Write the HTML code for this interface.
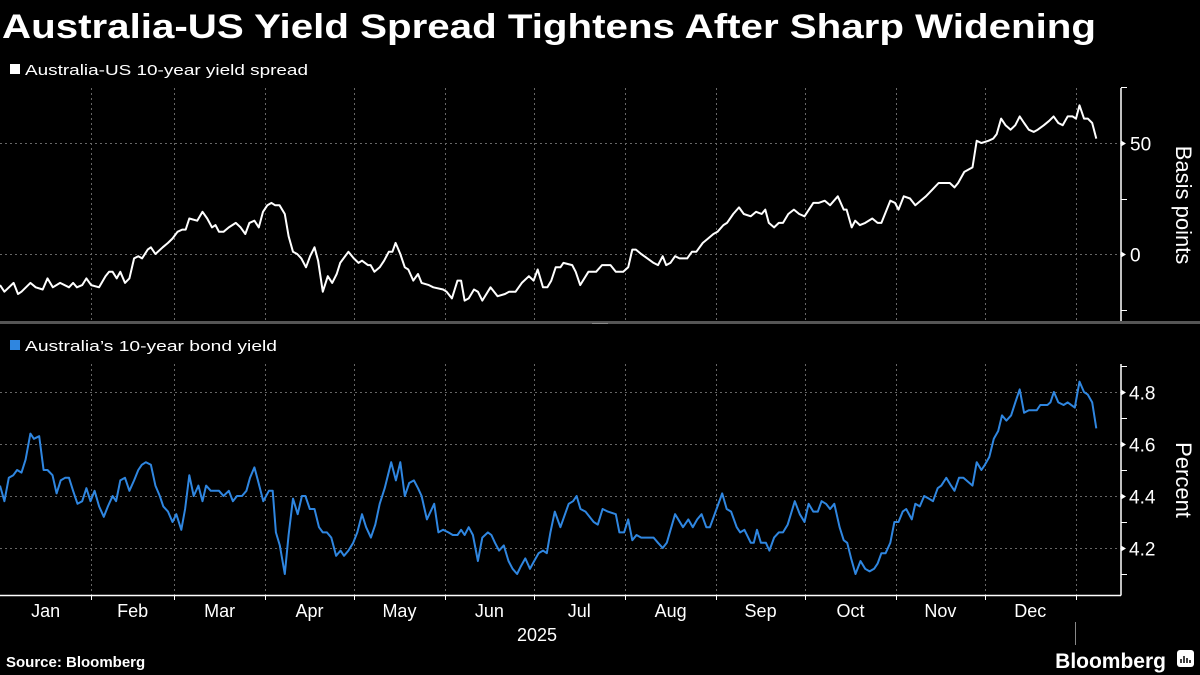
<!DOCTYPE html>
<html><head><meta charset="utf-8"><style>
html,body{margin:0;padding:0;background:#000;}
svg{display:block;font-family:"Liberation Sans",sans-serif;}
</style></head><body>
<svg id="chart" width="1200" height="675" viewBox="0 0 1200 675">
<rect width="1200" height="675" fill="#000"/>
<text x="2" y="38" fill="#fff" font-size="34" font-weight="bold" textLength="1094" lengthAdjust="spacingAndGlyphs">Australia-US Yield Spread Tightens After Sharp Widening</text>
<rect x="10" y="64" width="10" height="10" fill="#fff"/>
<text x="25" y="75" fill="#fff" font-size="15" textLength="283" lengthAdjust="spacingAndGlyphs">Australia-US 10-year yield spread</text>
<rect x="10" y="340" width="10" height="10" fill="#2f86e0"/>
<text x="25" y="351" fill="#fff" font-size="15" textLength="252" lengthAdjust="spacingAndGlyphs">Australia’s 10-year bond yield</text>
<rect x="0" y="321" width="1200" height="3" fill="#555"/>
<rect x="592" y="323" width="16" height="1" fill="#888"/>
<g id="grid"></g>
<g id="axes"></g>
<g id="series"></g>
<text transform="translate(1176,205) rotate(90)" fill="#fff" font-size="22" text-anchor="middle">Basis points</text>
<text transform="translate(1176,480) rotate(90)" fill="#fff" font-size="22" text-anchor="middle">Percent</text>
<text x="537" y="641" fill="#fff" font-size="18" text-anchor="middle">2025</text>
<line x1="1075.5" y1="622" x2="1075.5" y2="645" stroke="#888" stroke-width="1"/>
<text x="6" y="667" fill="#fff" font-size="15" font-weight="bold">Source: Bloomberg</text>
<text x="1166" y="668" fill="#fff" font-size="21" font-weight="bold" text-anchor="end">Bloomberg</text>
<rect x="1177" y="650" width="17" height="17" rx="3" fill="#fff"/>
<path d="M1181 663v-4M1184 663v-7M1187 663v-5M1190 663v-3" stroke="#000" stroke-width="1.5"/>
</svg>
<script>
const months = ["Jan","Feb","Mar","Apr","May","Jun","Jul","Aug","Sep","Oct","Nov","Dec"];
const monthStartDays = [0,31,59,90,120,151,181,212,243,273,304,334,365];
const spreadTicks = [0,50];
const spreadMinorTicks = [-25,25,75];
const yieldTicks = [4.2,4.4,4.6,4.8];
const yieldMinorTicks = [4.1,4.3,4.5,4.7,4.9];
const spreadDays = [0,1.5,4.6,6.1,7.3,10.3,12.1,14.5,16.1,17.9,20.4,23.4,24.8,26.1,27.9,29.3,30.9,33.6,35.8,37,38.2,39.6,40.8,42.4,43.9,45.5,46.9,48.2,50.1,51.2,52.7,55.2,57,58.5,60.2,61.8,63,64.2,66.9,68.7,70.3,71.9,73.1,74.3,75.8,77.6,80,81.6,83.2,84.6,86.3,87.8,89.2,90.7,92.1,93.3,94.8,96.6,97.9,99.4,100.8,102.2,103.8,105.2,106.7,107.9,109.5,111.2,112.7,114.2,115.4,118.2,120,121.6,122.8,124.8,125.7,127,128.8,130.3,131.9,133.1,134.2,135.8,137.3,138.5,140.2,141.8,143,145.5,147,150.3,151.5,153.3,155.2,156.4,157.6,159,160.8,162.1,163.6,166.4,168.8,171.3,172.7,174.9,177,179.4,181,182.4,184.2,185.7,187,188.5,190.1,
191.1,194.1,195.3,196.8,199.6,202.2,204.2,205.4,207.1,208.9,211.4,213.1,214.5,215.7,217.5,219.6,221.7,223.2,224.8,226,227.4,229,230.5,233.1,234.7,236.2,238.4,240.2,242,243.4,245.4,246.6,248.7,250.7,252.3,254.7,256.5,258.4,259.6,260.8,262.6,264.2,265.6,267.4,269.3,271.1,272.9,275.9,277.7,279.8,281.6,284.2,286.2,287.2,288.9,290.1,291.7,293.5,295.9,297.7,299,302,303.6,304.8,306.6,308.7,310.5,312.3,314.1,316.3,318.4,320.8,322.2,323.8,325,327.1,329.9,331.3,332.9,335.3,336.9,338.1,339.6,341.1,342.8,344.4,345.9,347.4,349,350.7,352,354.1,355.9,357.4,359,360.5,362.2,363.8,365,366.2,367.7,369,370.5,371.9];
const spreadValues = [-14,-17,-13,-18,-17,-13,-15,-16,-11,-15,-13,-15,-13,-15,-14,-11,-14,-15,-10,-8,-8,-11,-8,-13,-11,-2,-1,-2,2,3,0,3,5,7,10,11,11,16,15,19,16,12,13,10,10,12,14,12,9,14,15,12,19,22,23,22,22,18,8,1,0,-2,-6,-1,3,-3,-17,-10,-13,-9,-4,1,-2,-4,-3,-5,-5,-8,-6,-3,1,1,5,0,-6,-7,-12,-9,-13,-14,-15,-16,-17,-20,-12,-12,-21,-20,-16,-17,-21,-15,-19,-18,-17,-17,-13,-10,-12,-7,-15,-15,-12,-6,-6,
-4,-5,-8,-14,-8,-8,-5,-5,-5,-8,-8,-6,2,2,0,-2,-4,-5,-1,-5,-4,-1,-2,-2,1,1,5,7,9,10,13,14,18,21,18,17,19,18,20,14,12,14,14,18,20,18,17,23,23,24,22,26,20,20,12,15,13,14,16,14,14,24,23,20,26,25,22,24,26,29,32,32,32,30,32,37,39,51,50,51,52,54,61,58,56,58,62,59,56,55,56,58,60,62,59,58,62,62,61,67,61,61,59,52];
const yieldDays = [0,1.5,3,4.5,5.8,7.3,8.7,10.3,11.5,13.3,14.8,16.1,17.8,19.2,20.6,22.1,23.4,24.8,26.3,27.9,29.3,30.7,32.1,33.6,35.2,36.6,38.2,39.4,40.8,42.4,43.9,45.5,46.9,48.1,49.5,51.2,52.7,54.2,55.4,57,58.5,59.8,61.5,62.8,64.2,65.7,67.3,68.7,69.9,71.5,72.7,74.3,75.8,77.6,79,80.4,82.1,83.6,84.8,86.3,87.5,89.3,91.2,92.5,93.6,94.9,96.6,97.9,99.4,101,102.4,103.6,105.1,106.7,108.2,109.5,110.9,112.4,114,115.5,116.7,118.2,119.8,121.2,122.8,124.2,125.8,127.3,128.8,130.5,132.7,134.3,135.8,137.3,138.8,140.4,141.8,143,144.8,147.3,148.7,150.3,152.1,153.6,155.2,156.4,157.6,159,160.4,162.1,163.6,165.5,166.7,167.9,169.3,170.9,172.5,173.9,175.4,176.7,178.2,179.8,181.2,182.7,184.2,185.5,186.7,188.2,190.1,
192.9,194.4,195.6,196.9,198.6,201.4,202.8,204.4,206.2,208.9,210.1,211.7,213.1,214.5,215.9,217.5,219.6,221.7,223.2,224.8,226.2,229.0,231.7,233.5,235.0,236.5,238.0,239.6,240.8,243.4,245.0,246.5,248.0,249.9,251.1,252.5,254.7,255.7,256.8,258.1,259.8,261.0,262.6,264.2,265.6,267.2,269.6,271.3,272.9,274.3,275.9,277.4,278.7,280.2,281.6,283.0,284.8,286.2,287.4,288.7,290.2,291.9,293.5,295.0,296.5,297.7,299.0,300.4,302.0,303.4,304.8,306.2,307.4,309.3,310.5,312.0,313.5,315.1,316.5,318.1,319.3,321.0,322.6,323.8,325.3,326.8,329.9,331.3,332.9,334.1,335.6,337.1,338.6,339.9,341.4,343.0,344.4,345.9,347.4,349.0,351.7,352.9,355.3,356.3,357.5,359.0,360.8,362.2,364.6,366.2,367.7,369.0,370.5,371.9];
const yieldValues = [4.44,4.38,4.47,4.48,4.50,4.49,4.54,4.64,4.62,4.63,4.50,4.50,4.48,4.41,4.46,4.47,4.47,4.42,4.37,4.38,4.43,4.38,4.42,4.36,4.32,4.36,4.40,4.38,4.46,4.47,4.42,4.46,4.50,4.52,4.53,4.52,4.44,4.40,4.36,4.34,4.30,4.33,4.27,4.35,4.48,4.40,4.44,4.38,4.44,4.42,4.42,4.42,4.40,4.42,4.38,4.40,4.40,4.42,4.47,4.51,4.46,4.38,4.42,4.42,4.26,4.21,4.10,4.25,4.39,4.33,4.40,4.40,4.35,4.35,4.28,4.26,4.26,4.24,4.17,4.19,4.17,4.19,4.22,4.26,4.33,4.28,4.24,4.29,4.37,4.43,4.53,4.46,4.53,4.40,4.45,4.46,4.43,4.40,4.31,4.37,4.26,4.27,4.26,4.25,4.25,4.27,4.25,4.28,4.25,4.15,4.24,4.26,4.25,4.22,4.19,4.21,4.15,4.12,4.10,4.13,4.16,4.12,4.15,4.18,4.19,4.18,4.26,4.34,4.28,
4.37,4.38,4.40,4.35,4.34,4.30,4.29,4.35,4.34,4.33,4.26,4.26,4.31,4.23,4.25,4.24,4.24,4.24,4.22,4.20,4.22,4.33,4.28,4.31,4.28,4.31,4.33,4.28,4.28,4.36,4.41,4.35,4.34,4.28,4.26,4.27,4.22,4.22,4.27,4.22,4.22,4.19,4.24,4.26,4.26,4.29,4.38,4.33,4.30,4.37,4.34,4.34,4.38,4.37,4.35,4.37,4.28,4.23,4.22,4.16,4.10,4.15,4.12,4.11,4.12,4.14,4.18,4.18,4.22,4.30,4.30,4.34,4.35,4.31,4.37,4.36,4.40,4.39,4.38,4.43,4.44,4.47,4.44,4.42,4.47,4.47,4.44,4.53,4.50,4.52,4.55,4.62,4.65,4.71,4.69,4.71,4.76,4.81,4.72,4.73,4.73,4.75,4.75,4.76,4.80,4.76,4.75,4.76,4.74,4.84,4.80,4.79,4.76,4.66];

const NS = "http://www.w3.org/2000/svg";
const PX_PER_DAY = 1076 / 365;
const AXIS_X = 1121;
function xScale(d){ return d * PX_PER_DAY; }
function ySpread(v){ return 254 - v * 2.22; }
function yYield(v){ return 392 + (4.8 - v) * 260; }
function mk(tag, attrs, parent){ const e=document.createElementNS(NS,tag); for(const k in attrs) e.setAttribute(k,attrs[k]); parent.appendChild(e); return e; }

const grid = document.getElementById('grid');
const axes = document.getElementById('axes');
const series = document.getElementById('series');
const dash = {stroke:'#666','stroke-width':1,'stroke-dasharray':'2,3'};

for (let i = 1; i < monthStartDays.length; i++) {
  const x = Math.round(xScale(monthStartDays[i])) + 0.5;
  const g1 = mk('line', Object.assign({x1:x,y1:88,x2:x,y2:320}, dash), grid);
  
  
  const g2 = mk('line', Object.assign({x1:x,y1:364,x2:x,y2:595}, dash), grid);
  
  
  const t = mk('line', {x1:x,y1:595,x2:x,y2:600,stroke:'#fff','stroke-width':1}, axes);
  
  
}
months.forEach((m, i) => {
  const x = xScale((monthStartDays[i] + monthStartDays[i+1]) / 2);
  const t = mk('text', {x:x,y:617,fill:'#fff','font-size':18,'text-anchor':'middle'}, axes);
  t.textContent = m;
  
  
});

const ta = mk('line', {x1:AXIS_X,y1:88,x2:AXIS_X,y2:321,stroke:'#fff','stroke-width':1.5}, axes);


spreadTicks.forEach(v => {
  const y = Math.round(ySpread(v)) + 0.5;
  const g = mk('line', Object.assign({x1:0,y1:y,x2:AXIS_X,y2:y}, dash), grid);
  
  
  const tk = mk('path', {d:`M${AXIS_X} ${y-3}L${AXIS_X+5} ${y}L${AXIS_X} ${y+3}Z`, fill:'#fff'}, axes);
  
  
  const t = mk('text', {x:AXIS_X+9,y:y+7,fill:'#fff','font-size':19}, axes);
  t.textContent = v;
  
  
});
spreadMinorTicks.forEach(v => {
  const y = Math.round(ySpread(v)) + 0.5;
  const tk = mk('line', {x1:AXIS_X,y1:y,x2:AXIS_X+6,y2:y,stroke:'#fff','stroke-width':1}, axes);
  
  
});

const ba = mk('line', {x1:AXIS_X,y1:364,x2:AXIS_X,y2:595.5,stroke:'#fff','stroke-width':1.5}, axes);


const xa = mk('line', {x1:0,y1:595.5,x2:AXIS_X,y2:595.5,stroke:'#fff','stroke-width':1.5}, axes);


yieldTicks.forEach(v => {
  const y = Math.round(yYield(v)) + 0.5;
  const g = mk('line', Object.assign({x1:0,y1:y,x2:AXIS_X,y2:y}, dash), grid);
  
  
  const tk = mk('path', {d:`M${AXIS_X} ${y-3}L${AXIS_X+5} ${y}L${AXIS_X} ${y+3}Z`, fill:'#fff'}, axes);
  
  
  const t = mk('text', {x:AXIS_X+8,y:y+7,fill:'#fff','font-size':19}, axes);
  t.textContent = v.toFixed(1);
  
  
});
yieldMinorTicks.forEach(v => {
  const y = Math.round(yYield(v)) + 0.5;
  const tk = mk('line', {x1:AXIS_X,y1:y,x2:AXIS_X+6,y2:y,stroke:'#fff','stroke-width':1}, axes);
  
  
});

function linePath(days, vals, yf){
  const n = Math.min(days.length, vals.length);
  let d = '';
  for (let i = 0; i < n; i++) d += (i ? 'L' : 'M') + xScale(days[i]).toFixed(1) + ' ' + yf(vals[i]).toFixed(1);
  return d;
}
const sp = mk('path', {d:linePath(spreadDays, spreadValues, ySpread), fill:'none', stroke:'#fff','stroke-width':2,'stroke-linejoin':'round'}, series);


const yl = mk('path', {d:linePath(yieldDays, yieldValues, yYield), fill:'none', stroke:'#2f86e0','stroke-width':2,'stroke-linejoin':'round'}, series);


</script>
</body></html>
